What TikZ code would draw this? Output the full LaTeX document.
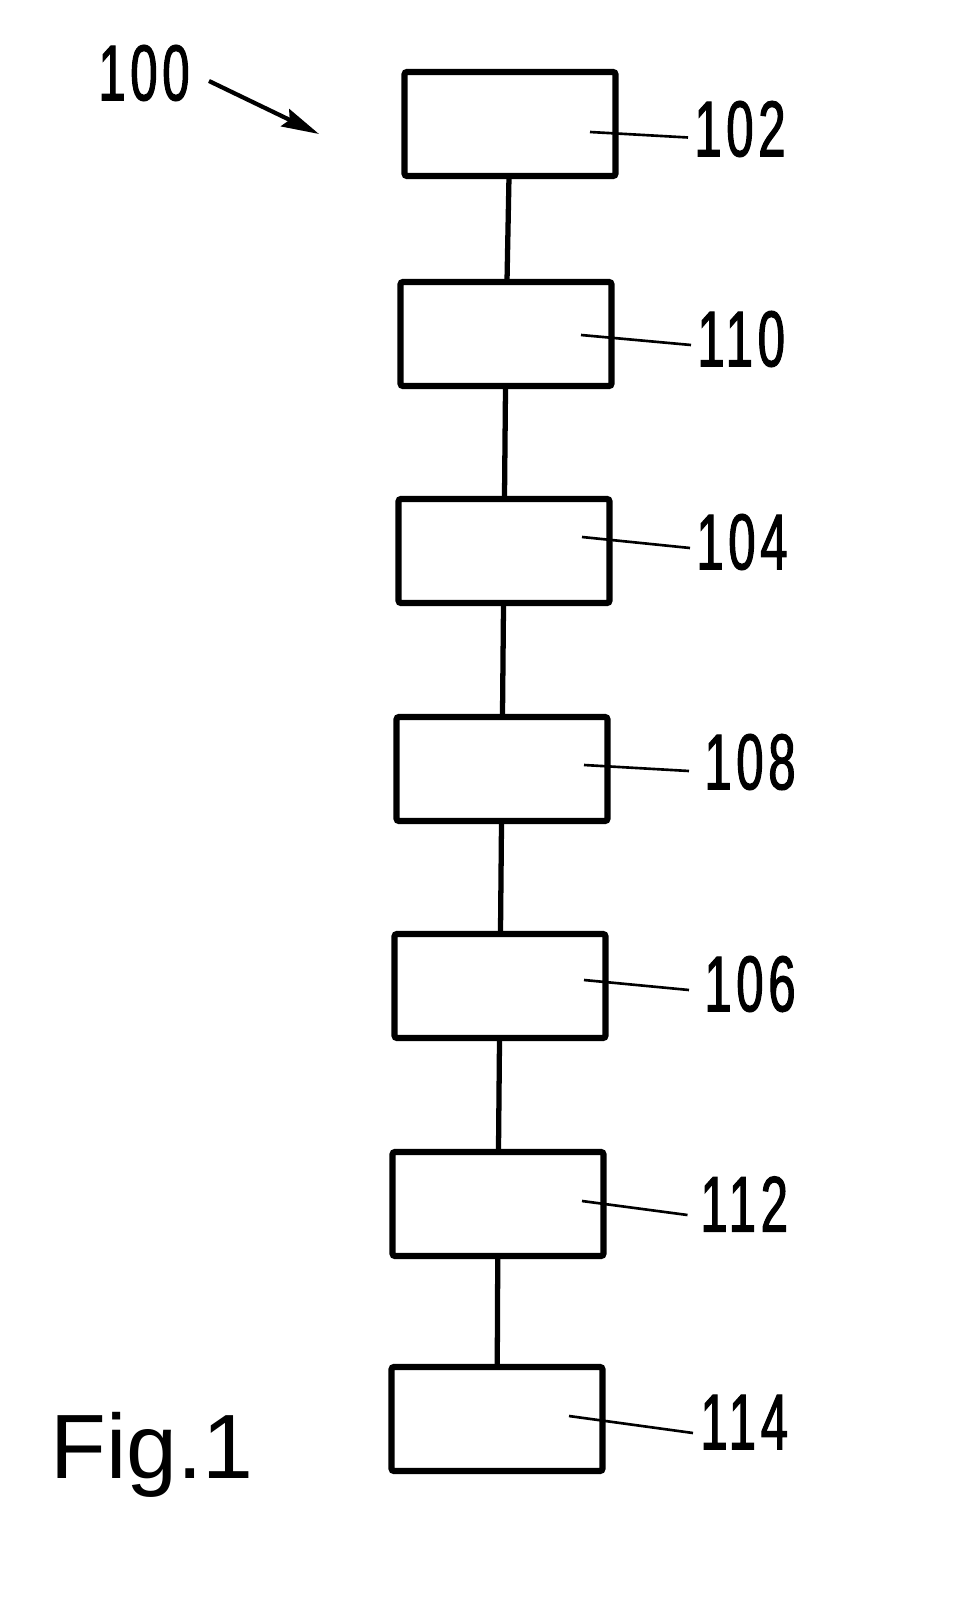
\documentclass[tikz,border=0pt]{standalone}
\usepackage{fontspec}
\setmainfont{Liberation Sans}
\newfontfamily\refnum[FakeStretch=0.62, LetterSpace=6, FakeBold=1.4]{Liberation Sans}
\usetikzlibrary{arrows.meta}

\begin{document}
\begin{tikzpicture}[x=0.02cm, y=-0.02cm,
  block/.style={draw, line width=3.6pt, rounded corners=1.5pt, minimum width=4.22cm, minimum height=2.08cm, inner sep=0pt},
  link/.style={line width=3pt},
  leader/.style={line width=1.5pt},
  refno/.style={font=\refnum\fontsize{45}{45}\selectfont, inner sep=0pt, anchor=west}]
\useasboundingbox (0,0) rectangle (964,1622);
% Blocks
\node[block] (b102) at (510,124) {};
\node[block] (b110) at (506,334) {};
\node[block] (b104) at (504,551) {};
\node[block] (b108) at (502,769) {};
\node[block] (b106) at (500,986) {};
\node[block] (b112) at (498,1204) {};
\node[block] (b114) at (497,1419) {};
% Links
\draw[link] (b102) -- (b110);
\draw[link] (b110) -- (b104);
\draw[link] (b104) -- (b108);
\draw[link] (b108) -- (b106);
\draw[link] (b106) -- (b112);
\draw[link] (b112) -- (b114);
% Reference numbers
\node[refno] (n102) at (694,129) {102};
\node[refno] (n110) at (697,339) {110};
\node[refno] (n104) at (696,542) {104};
\node[refno] (n108) at (704,762) {108};
\node[refno] (n106) at (704,984) {106};
\node[refno] (n112) at (700,1204) {112};
\node[refno] (n114) at (700,1422) {114};
\coordinate (t102) at (590,132);
\coordinate (t110) at (581,335);
\coordinate (t104) at (582,537);
\coordinate (t108) at (584,765);
\coordinate (t106) at (584,980);
\coordinate (t112) at (582,1201);
\coordinate (t114) at (569,1416);
\draw[leader] (t102) -- ([xshift=-0.12cm,yshift=-0.17cm]n102.west);
\draw[leader] (t110) -- ([xshift=-0.12cm,yshift=-0.12cm]n110.west);
\draw[leader] (t104) -- ([xshift=-0.12cm,yshift=-0.12cm]n104.west);
\draw[leader] (t108) -- ([xshift=-0.3cm,yshift=-0.18cm]n108.west);
\draw[leader] (t106) -- ([xshift=-0.3cm,yshift=-0.12cm]n106.west);
\draw[leader] (t112) -- ([xshift=-0.25cm,yshift=-0.22cm]n112.west);
\draw[leader] (t114) -- ([xshift=-0.14cm,yshift=-0.22cm]n114.west);
% Overall reference
\node[refno] (n100) at (98,73) {100};
\coordinate (h100) at (319,134);
\draw[line width=2.4pt, -{Stealth[length=0.75cm, width=0.38cm, inset=0.1cm]}] ([xshift=0.38cm,yshift=-0.16cm]n100.east) -- (h100);
% Figure caption
\node[font=\fontsize{52}{52}\selectfont, inner sep=0pt, anchor=base west] (fig) at (50,1478) {Fig.1};
\end{tikzpicture}
\end{document}
